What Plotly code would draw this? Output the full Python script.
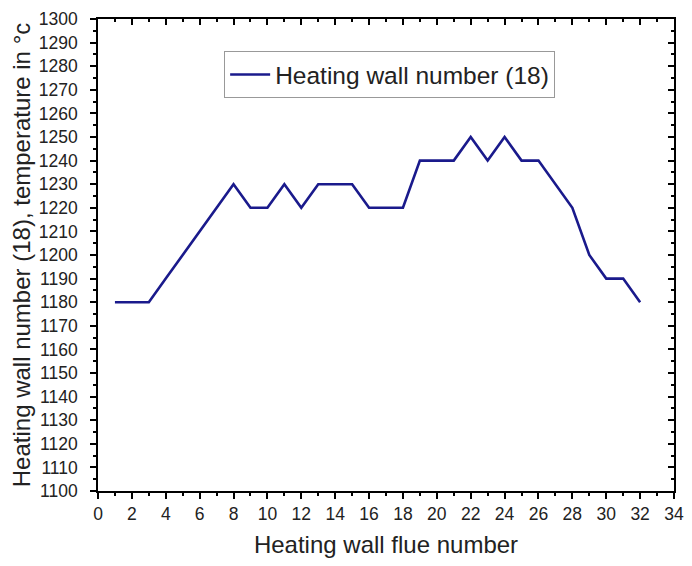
import plotly.graph_objects as go

flue_number = list(range(1, 33))
temperature = [1180, 1180, 1180, 1190, 1200, 1210, 1220, 1230, 1220, 1220,
               1230, 1220, 1230, 1230, 1230, 1220, 1220, 1220, 1240, 1240,
               1240, 1250, 1240, 1250, 1240, 1240, 1230, 1220, 1200, 1190,
               1190, 1180]
series_name = "Heating wall number (18)"
x_title = "Heating wall flue number"
y_title = "Heating wall number (18), temperature in °c"

FONT = "Liberation Sans, Arial, sans-serif"
line_color = "#1a1a8c"

fig = go.Figure()
fig.add_trace(go.Scatter(x=flue_number, y=temperature, mode="lines", name=series_name,
                         line=dict(color=line_color, width=2.6)))
# invisible trace to draw the mirrored top/right axes
fig.add_trace(go.Scatter(x=flue_number, y=temperature, mode="lines", xaxis="x2", yaxis="y2",
                         showlegend=False, hoverinfo="skip", opacity=0,
                         line=dict(width=0)))

axis_common = dict(showgrid=False, zeroline=False, showline=True, linecolor="black",
                   linewidth=1.5, tickcolor="black", tickwidth=1.5, ticklen=6,
                   automargin=False)
tickfont = dict(family=FONT, size=17.5, color="#222")

fig.update_layout(
    width=676, height=550,
    paper_bgcolor="white", plot_bgcolor="white",
    margin=dict(l=90, r=10, t=11, b=67),
    font=dict(family=FONT, color="#222"),
    xaxis=dict(range=[0, 34], dtick=2, tick0=0, ticks="outside", tickfont=tickfont,
               ticklabeloverflow="allow",
               minor=dict(dtick=1, ticks="outside", ticklen=3, tickcolor="black", tickwidth=1.5),
               title=dict(text=x_title, font=dict(family=FONT, size=24, color="#222"), standoff=27),
               **axis_common),
    yaxis=dict(range=[1100, 1300], dtick=10, tick0=1100, ticks="outside", tickfont=tickfont,
               ticklabelstandoff=9,
               minor=dict(dtick=5, ticks="outside", ticklen=3, tickcolor="black", tickwidth=1.5),
               title=dict(text=y_title, font=dict(family=FONT, size=24, color="#222"), standoff=8),
               **axis_common),
    xaxis2=dict(overlaying="x", side="top", range=[0, 34], dtick=2, tick0=0, ticks="inside",
                showticklabels=False,
                minor=dict(dtick=1, ticks="inside", ticklen=3, tickcolor="black", tickwidth=1.5),
                **axis_common),
    yaxis2=dict(overlaying="y", side="right", range=[1100, 1300], dtick=10, tick0=1100,
                ticks="inside", showticklabels=False,
                minor=dict(dtick=5, ticks="inside", ticklen=3, tickcolor="black", tickwidth=1.5),
                **axis_common),
    legend=dict(x=0.219, y=0.932, xanchor="left", yanchor="top",
                bordercolor="#999", borderwidth=1, bgcolor="white",
                font=dict(family=FONT, size=24.5, color="#222"),
                itemwidth=40),
    showlegend=True,
)

fig.write_html("out.html")
